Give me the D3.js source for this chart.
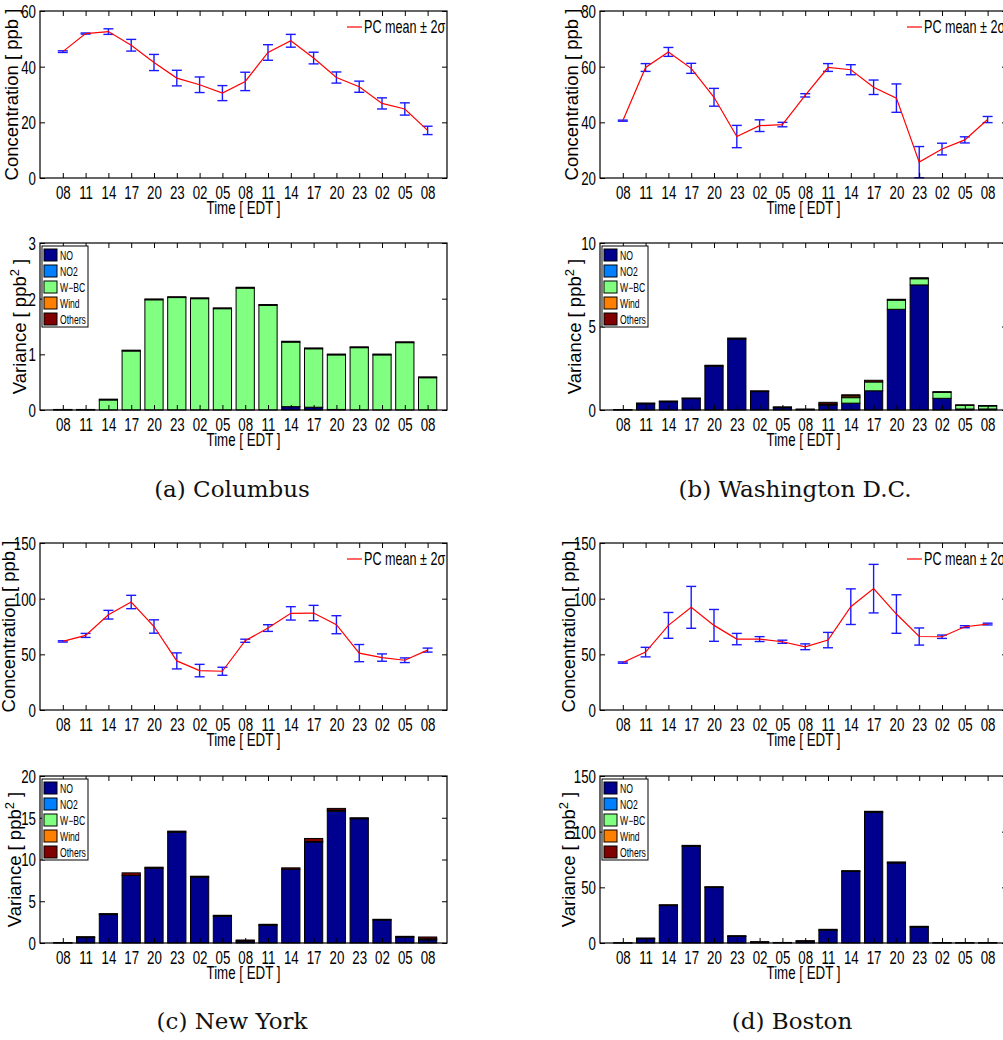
<!DOCTYPE html>
<html>
<head>
<meta charset="utf-8">
<script src="https://cdn.jsdelivr.net/npm/d3@7"></script>
<style>
  body { margin: 0; background: #fff; }
  svg { display: block; }
  text { font-family: "Liberation Sans", Arial, sans-serif; fill: #000; }
  .caption { font-family: "DejaVu Serif", serif; fill: #111; }
</style>
</head>
<body>
<svg id="fig" width="1003" height="1040"></svg>
<script>
// x categories (hours, EDT)
const hours = ["08", "11", "14", "17", "20", "23", "02", "05", "08", "11", "14", "17", "20", "23", "02", "05", "08"];
const components = ["NO", "NO2", "W\u2212BC", "Wind", "Others"];
const componentColors = ["#00008f", "#0080ff", "#80ff80", "#ff7f00", "#800000"];

// Columbus
const columbusMean = [45.4, 51.9, 52.6, 47.7, 41.5, 35.9, 33.5, 30.5, 34.7, 45.1, 49.3, 43.1, 36.1, 32.8, 26.8, 24.8, 17.1];
const columbusErr = [0.3, 0.2, 1.0, 2.1, 2.9, 2.8, 2.8, 2.7, 3.3, 2.8, 2.3, 2.1, 2.0, 2.0, 2.0, 2.2, 1.5];
const columbusNO = [0.005, 0.005, 0, 0, 0, 0, 0, 0, 0, 0, 0.06, 0.05, 0.01, 0, 0, 0, 0];
const columbusNO2 = [0, 0, 0, 0, 0, 0, 0, 0, 0, 0, 0, 0, 0, 0, 0, 0, 0];
const columbusWBC = [0, 0, 0.18, 1.06, 1.98, 2.02, 2.0, 1.82, 2.19, 1.88, 1.16, 1.05, 0.98, 1.12, 0.99, 1.21, 0.58];
const columbusWind = [0, 0, 0, 0, 0, 0, 0, 0, 0, 0, 0, 0, 0, 0, 0, 0, 0];
const columbusOthers = [0.005, 0.005, 0.015, 0.015, 0.015, 0.015, 0.015, 0.015, 0.015, 0.015, 0.015, 0.015, 0.015, 0.015, 0.015, 0.015, 0.015];

// Washington D.C.
const washingtonMean = [40.6, 59.7, 65.3, 59.4, 49.0, 34.9, 38.8, 39.2, 49.7, 59.7, 58.9, 52.6, 48.7, 25.7, 30.4, 33.7, 41.0];
const washingtonErr = [0.2, 1.4, 1.6, 1.8, 3.2, 4.0, 2.1, 0.8, 0.6, 1.4, 1.8, 2.6, 5.1, 5.6, 2.1, 1.1, 1.1];
const washingtonNO = [0.01, 0.37, 0.49, 0.68, 2.62, 4.25, 1.1, 0.14, 0.03, 0.3, 0.41, 1.15, 6.03, 7.49, 0.7, 0.06, 0.06];
const washingtonNO2 = [0, 0, 0, 0, 0, 0, 0, 0, 0, 0, 0, 0, 0, 0, 0, 0, 0];
const washingtonWBC = [0, 0, 0, 0, 0, 0, 0, 0, 0, 0.06, 0.33, 0.53, 0.55, 0.37, 0.36, 0.22, 0.18];
const washingtonWind = [0, 0, 0, 0, 0, 0, 0, 0, 0, 0, 0.1, 0, 0, 0, 0, 0, 0];
const washingtonOthers = [0.02, 0.05, 0.05, 0.04, 0.06, 0.06, 0.05, 0.05, 0.03, 0.1, 0.07, 0.1, 0.05, 0.06, 0.04, 0.03, 0.03];

// New York
const newYorkMean = [61.6, 67.0, 85.6, 97.0, 75.0, 44.1, 35.4, 34.8, 62.2, 73.6, 86.8, 87.1, 76.6, 51.1, 47.1, 44.7, 53.8];
const newYorkErr = [0.6, 1.8, 3.9, 6.0, 6.0, 7.2, 5.6, 3.6, 1.4, 3.0, 6.0, 6.9, 8.1, 7.7, 3.3, 2.1, 1.8];
const newYorkNO = [0.02, 0.64, 3.4, 8.1, 8.95, 13.27, 7.87, 3.2, 0.22, 2.12, 8.84, 12.1, 15.8, 14.88, 2.75, 0.7, 0.38];
const newYorkNO2 = [0, 0, 0, 0, 0, 0, 0, 0, 0, 0, 0, 0, 0, 0, 0, 0, 0];
const newYorkWBC = [0, 0, 0, 0, 0, 0, 0, 0, 0, 0, 0, 0, 0, 0, 0, 0, 0];
const newYorkWind = [0, 0, 0, 0, 0, 0, 0, 0, 0, 0, 0, 0.05, 0.12, 0, 0, 0, 0.12];
const newYorkOthers = [0.03, 0.12, 0.12, 0.3, 0.13, 0.13, 0.13, 0.12, 0.14, 0.12, 0.16, 0.37, 0.2, 0.12, 0.09, 0.1, 0.22];

// Boston
const bostonMean = [42.6, 52.0, 76.0, 92.2, 76.0, 63.7, 63.7, 61.3, 56.8, 62.8, 92.8, 109.0, 86.2, 66.0, 65.8, 74.8, 77.2];
const bostonErr = [0.6, 4.3, 11.6, 18.8, 14.3, 5.1, 2.2, 1.4, 2.6, 6.9, 16.0, 21.8, 17.3, 7.7, 1.5, 0.9, 0.8];
const bostonNO = [0.1, 3.8, 33.6, 86.8, 49.8, 5.9, 0.8, 0.3, 1.6, 11.5, 64.2, 117.4, 71.9, 14.3, 0.15, 0.15, 0.15];
const bostonNO2 = [0, 0, 0, 0, 0, 0, 0, 0, 0, 0, 0, 0, 0, 0, 0, 0, 0];
const bostonWBC = [0, 0, 0, 0, 0, 0, 0, 0, 0, 0, 0, 0, 0, 0, 0, 0, 0];
const bostonWind = [0, 0, 0, 0, 0, 0, 0, 0, 0, 0, 0, 0, 0, 0, 0, 0, 0];
const bostonOthers = [0.1, 0.7, 0.8, 0.9, 0.8, 0.7, 0.4, 0.2, 0.5, 0.8, 0.8, 0.9, 0.9, 0.7, 0.15, 0.15, 0.15];

// axis ranges and ticks
const columbusLineTicks = [0, 20, 40, 60];
const columbusBarTicks = [0, 1, 2, 3];
const washingtonLineTicks = [20, 40, 60, 80];
const washingtonBarTicks = [0, 5, 10];
const newYorkLineTicks = [0, 50, 100, 150];
const newYorkBarTicks = [0, 5, 10, 15, 20];
const bostonLineTicks = [0, 50, 100, 150];
const bostonBarTicks = [0, 50, 100, 150];

const W = 407, H = 167;
const SQ = 0.72;      // horizontal squeeze of the axis text
const FS = 18.5;
const svg = d3.select("#fig");

const x = d3.scaleLinear().domain([0, 17.85]).range([0, W]);
const slots = hours.map((h, i) => i + 1);
const barW = 0.8 * (x(2) - x(1));

function styleTicks(sel) {
  sel.select(".domain").remove();
  sel.selectAll("line").attr("stroke", "#000").attr("stroke-width", 1);
}

// box with inward ticks on all four sides, labels left and bottom
function frame(g, y, ticks, ylabel, labelOffset) {
  const left = g.append("g")
    .call(d3.axisLeft(y).tickValues(ticks).tickSize(-5).tickSizeOuter(0).tickFormat(d3.format("d")));
  styleTicks(left);
  left.attr("font-family", null).attr("font-size", null);
  left.selectAll("text")
    .attr("x", null).attr("dy", "0.35em")
    .attr("font-size", FS)
    .attr("transform", `translate(-4,0) scale(${SQ},1)`);

  const right = g.append("g").attr("transform", `translate(${W},0)`)
    .call(d3.axisRight(y).tickValues(ticks).tickSize(-5).tickSizeOuter(0).tickFormat(""));
  styleTicks(right);

  const top = g.append("g")
    .call(d3.axisTop(x).tickValues(slots).tickSize(-5).tickSizeOuter(0).tickFormat(""));
  styleTicks(top);

  const bottom = g.append("g").attr("transform", `translate(0,${H})`)
    .call(d3.axisBottom(x).tickValues(slots).tickSize(-5).tickSizeOuter(0).tickFormat(d => hours[d - 1]));
  styleTicks(bottom);
  bottom.attr("font-family", null).attr("font-size", null);
  bottom.selectAll("text")
    .attr("y", null).attr("dy", null)
    .attr("font-size", FS)
    .attr("transform", `translate(0,21) scale(${SQ},1)`);

  g.append("rect")
    .attr("width", W).attr("height", H)
    .attr("fill", "none").attr("stroke", "#000").attr("stroke-width", 1.2);

  g.append("text")
    .attr("text-anchor", "middle")
    .attr("font-size", FS)
    .attr("transform", `translate(${W / 2},${H + 36}) scale(${SQ},1)`)
    .text("Time [ EDT ]");

  const yl = g.append("text")
    .attr("text-anchor", "middle")
    .attr("font-size", FS)
    .attr("transform", `translate(${-labelOffset},${H / 2}) rotate(-90)`);
  if (ylabel === "variance") {
    yl.append("tspan").text("Variance [ ppb");
    yl.append("tspan").attr("dy", -7).attr("font-size", 13).text("2");
    yl.append("tspan").attr("dy", 7).text(" ]");
  } else {
    yl.text("Concentration [ ppb ]");
  }
}

function linePanel(left, top, mean, err, ticks, labelOffset) {
  const g = svg.append("g").attr("transform", `translate(${left},${top})`);
  const y = d3.scaleLinear().domain(d3.extent(ticks)).range([H, 0]);

  const eb = g.append("g").attr("stroke", "#1a1aff").attr("stroke-width", 1.4);
  mean.forEach((m, i) => {
    const cx = x(i + 1);
    eb.append("line").attr("x1", cx).attr("x2", cx).attr("y1", y(m - err[i])).attr("y2", y(m + err[i]));
    eb.append("line").attr("x1", cx - 5).attr("x2", cx + 5).attr("y1", y(m - err[i])).attr("y2", y(m - err[i]));
    eb.append("line").attr("x1", cx - 5).attr("x2", cx + 5).attr("y1", y(m + err[i])).attr("y2", y(m + err[i]));
  });

  g.append("path")
    .datum(mean)
    .attr("fill", "none")
    .attr("stroke", "#ff0000")
    .attr("stroke-width", 1.2)
    .attr("d", d3.line().x((d, i) => x(i + 1)).y(d => y(d)));

  frame(g, y, ticks, "concentration", labelOffset);

  // legend
  g.append("line")
    .attr("x1", W - 100).attr("x2", W - 85).attr("y1", 16).attr("y2", 16)
    .attr("stroke", "#ff0000").attr("stroke-width", 1.2);
  g.append("text")
    .attr("font-size", 17.5)
    .attr("transform", `translate(${W - 83},22) scale(${SQ},1)`)
    .text("PC mean \u00b1 2\u03c3");
}

function barPanel(left, top, parts, ticks, labelOffset) {
  const g = svg.append("g").attr("transform", `translate(${left},${top})`);
  const y = d3.scaleLinear().domain(d3.extent(ticks)).range([H, 0]);

  const rows = hours.map((h, i) => {
    const r = { slot: i + 1 };
    components.forEach((c, k) => { r[c] = parts[k][i]; });
    return r;
  });
  const series = d3.stack().keys(components)(rows);

  g.selectAll("g.layer")
    .data(series)
    .join("g")
    .attr("class", "layer")
    .attr("fill", (d, k) => componentColors[k])
    .selectAll("rect")
    .data(d => d.filter(p => p[1] - p[0] > 0))
    .join("rect")
    .attr("x", p => x(p.data.slot) - barW / 2)
    .attr("width", barW)
    .attr("y", p => y(p[1]))
    .attr("height", p => y(p[0]) - y(p[1]))
    .attr("stroke", "#000")
    .attr("stroke-width", 1);

  frame(g, y, ticks, "variance", labelOffset);

  // legend
  const lg = g.append("g").attr("transform", "translate(2,3)");
  lg.append("rect").attr("width", 46).attr("height", 81)
    .attr("fill", "#fff").attr("stroke", "#000").attr("stroke-width", 1);
  components.forEach((c, k) => {
    const cy = 9 + k * 16;
    lg.append("rect").attr("x", 2).attr("y", cy - 6).attr("width", 13).attr("height", 12)
      .attr("fill", componentColors[k]).attr("stroke", "#000").attr("stroke-width", 1);
    lg.append("text")
      .attr("font-size", 12)
      .attr("transform", `translate(18,${cy + 4.5}) scale(${SQ},1)`)
      .text(c);
  });
}

function caption(cx, cy, str) {
  svg.append("text")
    .attr("class", "caption")
    .attr("x", cx).attr("y", cy)
    .attr("text-anchor", "middle")
    .attr("font-size", 23)
    .text(str);
}

// (a) Columbus
linePanel(40, 11, columbusMean, columbusErr, columbusLineTicks, 22);
barPanel(40, 243, [columbusNO, columbusNO2, columbusWBC, columbusWind, columbusOthers], columbusBarTicks, 14);
caption(232, 497, "(a) Columbus");

// (b) Washington D.C.
linePanel(600, 11, washingtonMean, washingtonErr, washingtonLineTicks, 22);
barPanel(600, 243, [washingtonNO, washingtonNO2, washingtonWBC, washingtonWind, washingtonOthers], washingtonBarTicks, 19);
caption(795, 497, "(b) Washington D.C.");

// (c) New York
linePanel(40, 543, newYorkMean, newYorkErr, newYorkLineTicks, 25);
barPanel(40, 776, [newYorkNO, newYorkNO2, newYorkWBC, newYorkWind, newYorkOthers], newYorkBarTicks, 19);
caption(232, 1029, "(c) New York");

// (d) Boston
linePanel(600, 543, bostonMean, bostonErr, bostonLineTicks, 25);
barPanel(600, 776, [bostonNO, bostonNO2, bostonWBC, bostonWind, bostonOthers], bostonBarTicks, 25);
caption(792, 1029, "(d) Boston");
</script>
</body>
</html>
